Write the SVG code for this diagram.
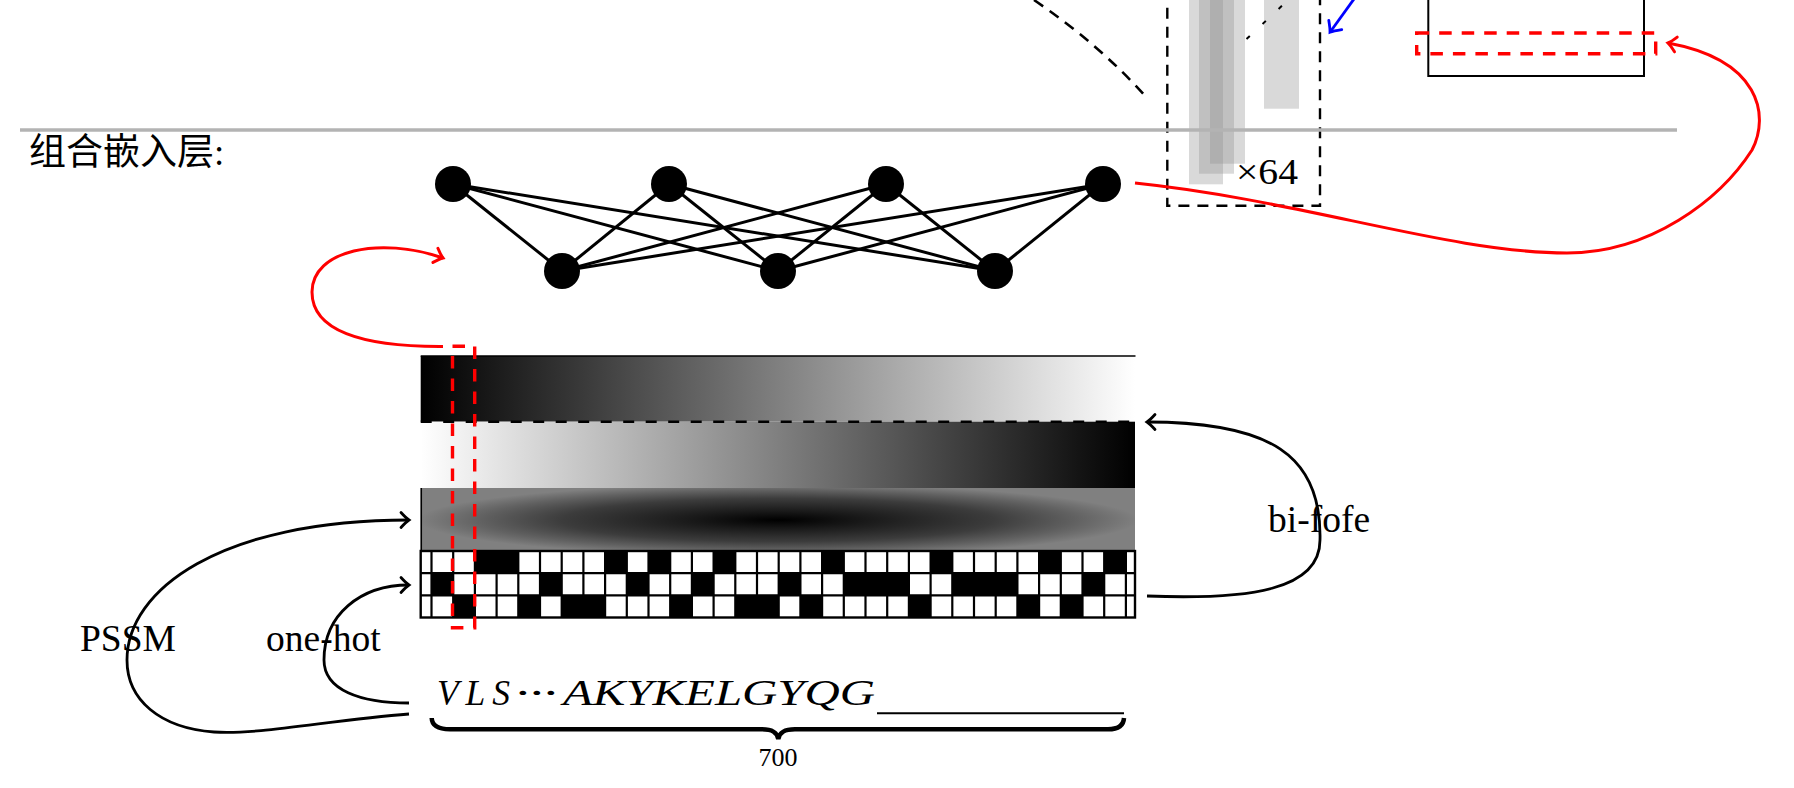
<svg xmlns="http://www.w3.org/2000/svg" width="1794" height="788" viewBox="0 0 1794 788">
<style>
.lbl{font-family:"Liberation Serif","Times New Roman",serif;font-size:37.5px;fill:#000}
.small{font-family:"Liberation Serif","Times New Roman",serif;font-size:26px;fill:#000}
.mult{font-family:"Liberation Serif","Times New Roman",serif;font-size:35px;fill:#000}
.title{font-family:"Liberation Serif","Noto Sans CJK SC",serif;font-size:37px;fill:#000}
.seq{font-family:"Liberation Serif","Times New Roman",serif;font-style:italic;font-size:35.5px;fill:#000}
.edge{stroke:#000;stroke-width:3;fill:none}
.node{fill:#000}
.arr{fill:none;stroke:#000;stroke-width:2.8}
.red{fill:none;stroke:#ff0000;stroke-width:3}
.rdash{fill:none;stroke:#ff0000;stroke-width:3.4;stroke-dasharray:12.5 10}
.kdash{fill:none;stroke:#000;stroke-width:2.4;stroke-dasharray:11 8}
.bar{fill:#909090;fill-opacity:0.34}
</style>
<defs>
<linearGradient id="gBW" x1="0" y1="0" x2="1" y2="0"><stop offset="0" stop-color="#000"/><stop offset="1" stop-color="#fff"/></linearGradient>
<linearGradient id="gWB" x1="0" y1="0" x2="1" y2="0"><stop offset="0" stop-color="#fff"/><stop offset="1" stop-color="#000"/></linearGradient>
<radialGradient id="gRad" gradientUnits="userSpaceOnUse" cx="778" cy="520" r="360" gradientTransform="translate(778,520) scale(1,0.1) translate(-778,-520)">
<stop offset="0" stop-color="#000"/><stop offset="0.25" stop-color="#1a1a1a"/><stop offset="0.6" stop-color="#3c3c3c"/><stop offset="0.82" stop-color="#606060"/><stop offset="1" stop-color="#808080"/>
</radialGradient>
<marker id="aK" markerUnits="userSpaceOnUse" markerWidth="20" markerHeight="20" refX="0" refY="0" orient="auto" overflow="visible"><path d="M-8,-7.5 Q-3,-2 0,0 Q-3,2 -8,7.5" fill="none" stroke="#000" stroke-width="2.8" stroke-linecap="round"/></marker>
<marker id="aR" markerUnits="userSpaceOnUse" markerWidth="20" markerHeight="20" refX="0" refY="0" orient="auto" overflow="visible"><path d="M-8,-7.5 Q-3,-2 0,0 Q-3,2 -8,7.5" fill="none" stroke="#ff0000" stroke-width="3" stroke-linecap="round"/></marker>
<marker id="aB" markerUnits="userSpaceOnUse" markerWidth="20" markerHeight="20" refX="0" refY="0" orient="auto" overflow="visible"><path d="M-9,-8 Q-3,-2 0,0 Q-3,2 -9,8" fill="none" stroke="#0000ff" stroke-width="2.8" stroke-linecap="round"/></marker>
</defs>
<rect width="1794" height="788" fill="#fff"/>

<g id="top-section">
<path d="M1034,0 Q1100,45 1147,98" fill="none" stroke="#000" stroke-width="2.6" stroke-dasharray="11 8"/>
<g id="stack-bars">
<rect class="bar" x="1189" y="-5" width="34" height="189.3"/>
<rect class="bar" x="1199" y="-5" width="35" height="178.7"/>
<rect class="bar" x="1210" y="-5" width="35" height="168.7"/>
<rect x="1264" y="-5" width="35" height="113.7" fill="#d9d9d9"/>
<path d="M1246.5,39 L1286,2" fill="none" stroke="#000" stroke-width="2" stroke-dasharray="4.5 17.5"/>
</g>
<rect id="stack-box" class="kdash" x="1167.3" y="-5" width="152.7" height="210.7"/>
<text class="mult" x="1236" y="184" textLength="62" lengthAdjust="spacingAndGlyphs">×64</text>
<rect id="top-rect" x="1428.3" y="-5" width="215.7" height="81" fill="none" stroke="#000" stroke-width="2"/>
<rect id="top-red-box" class="rdash" x="1416.7" y="33" width="239" height="20.7"/>
</g>

<line id="divider" x1="20" y1="130" x2="1677" y2="130" stroke="#b3b3b3" stroke-width="3.3"/>
<text id="title" class="title" x="29" y="165">组合嵌入层:</text>

<g id="bands">
<rect id="band1" x="420.7" y="356" width="714.3" height="65.7" fill="url(#gBW)"/>
<rect id="band2" x="420.7" y="421.7" width="714.3" height="66.3" fill="url(#gWB)"/>
<line x1="420.7" y1="356" x2="1135.5" y2="356" stroke="#000" stroke-width="1.5"/>
<line x1="420.7" y1="421.7" x2="1135.5" y2="421.7" stroke="#000" stroke-width="2.5" stroke-dasharray="11 11.5"/>
<g id="band3">
<rect x="420.7" y="488" width="714.3" height="63" fill="#808080"/>
<rect x="420.7" y="488" width="714.3" height="63" fill="url(#gRad)"/>
<line x1="421.3" y1="488" x2="421.3" y2="551" stroke="#000" stroke-width="1.5"/>
</g>
<g id="onehot-grid">
<rect x="420.7" y="551" width="714.3" height="66.5" fill="#fff"/>
<g fill="#000">
<rect x="474.9" y="551" width="43.4" height="22.2"/>
<rect x="605.1" y="551" width="21.7" height="22.2"/>
<rect x="648.5" y="551" width="21.7" height="22.2"/>
<rect x="713.6" y="551" width="21.7" height="22.2"/>
<rect x="822.1" y="551" width="21.7" height="22.2"/>
<rect x="930.6" y="551" width="21.7" height="22.2"/>
<rect x="1039.1" y="551" width="21.7" height="22.2"/>
<rect x="1104.2" y="551" width="21.7" height="22.2"/>
<rect x="431.5" y="573.2" width="21.7" height="22.2"/>
<rect x="540" y="573.2" width="21.7" height="22.2"/>
<rect x="626.8" y="573.2" width="21.7" height="22.2"/>
<rect x="691.9" y="573.2" width="21.7" height="22.2"/>
<rect x="778.7" y="573.2" width="21.7" height="22.2"/>
<rect x="843.8" y="573.2" width="65.1" height="22.2"/>
<rect x="952.3" y="573.2" width="65.1" height="22.2"/>
<rect x="1082.5" y="573.2" width="21.7" height="22.2"/>
<rect x="453.2" y="595.4" width="21.7" height="22.1"/>
<rect x="518.3" y="595.4" width="21.7" height="22.1"/>
<rect x="561.7" y="595.4" width="43.4" height="22.1"/>
<rect x="670.2" y="595.4" width="21.7" height="22.1"/>
<rect x="735.3" y="595.4" width="43.4" height="22.1"/>
<rect x="800.4" y="595.4" width="21.7" height="22.1"/>
<rect x="908.9" y="595.4" width="21.7" height="22.1"/>
<rect x="1017.4" y="595.4" width="21.7" height="22.1"/>
<rect x="1060.8" y="595.4" width="21.7" height="22.1"/>
</g>
<path fill="none" stroke="#000" stroke-width="2.2" d="M420.7,573.2H1135M420.7,595.4H1135M431.5,551V617.5M453.2,551V617.5M474.9,551V617.5M496.6,551V617.5M518.3,551V617.5M540,551V617.5M561.7,551V617.5M583.4,551V617.5M605.1,551V617.5M626.8,551V617.5M648.5,551V617.5M670.2,551V617.5M691.9,551V617.5M713.6,551V617.5M735.3,551V617.5M757,551V617.5M778.7,551V617.5M800.4,551V617.5M822.1,551V617.5M843.8,551V617.5M865.5,551V617.5M887.2,551V617.5M908.9,551V617.5M930.6,551V617.5M952.3,551V617.5M974,551V617.5M995.7,551V617.5M1017.4,551V617.5M1039.1,551V617.5M1060.8,551V617.5M1082.5,551V617.5M1104.2,551V617.5M1125.9,551V617.5"/>
<rect x="420.7" y="551" width="714.3" height="66.5" fill="none" stroke="#000" stroke-width="2.4"/>
</g>
<rect id="column-box" class="rdash" x="452.5" y="346.2" width="22.2" height="281.5"/>
</g>

<g id="connectors">
<g id="nn-edges">
<line class="edge" x1="453" y1="184" x2="562" y2="271"/>
<line class="edge" x1="453" y1="184" x2="778" y2="271"/>
<line class="edge" x1="453" y1="184" x2="995" y2="271"/>
<line class="edge" x1="669" y1="184" x2="562" y2="271"/>
<line class="edge" x1="669" y1="184" x2="778" y2="271"/>
<line class="edge" x1="669" y1="184" x2="995" y2="271"/>
<line class="edge" x1="886" y1="184" x2="562" y2="271"/>
<line class="edge" x1="886" y1="184" x2="778" y2="271"/>
<line class="edge" x1="886" y1="184" x2="995" y2="271"/>
<line class="edge" x1="1103" y1="184" x2="562" y2="271"/>
<line class="edge" x1="1103" y1="184" x2="778" y2="271"/>
<line class="edge" x1="1103" y1="184" x2="995" y2="271"/>
</g>
<path id="red-to-top" class="red" d="M1135,183 C1300,200 1450,253 1567,253 C1650,253 1720,200 1752,150 C1770,115 1760,60 1668,43" marker-end="url(#aR)"/>
<path id="red-to-nn" class="red" d="M443,346.5 C360,347 312,330 312,292 C312,250 380,236 443,258" marker-end="url(#aR)"/>
<path id="blue-arrow" d="M1360.5,-10 L1330,32.3" fill="none" stroke="#0000ff" stroke-width="2.8" marker-end="url(#aB)"/>
<path id="pssm-arrow" class="arr" d="M409,714 C330,720 260,735 214,732 C160,728 127,700 127,660 C127,590 220,520 409,520" marker-end="url(#aK)"/>
<path id="onehot-arrow" class="arr" d="M409,703 C360,703 324,690 324,660 C324,615 360,585 409,585" marker-end="url(#aK)"/>
<path id="bifofe-arrow" class="arr" d="M1147,596 C1250,600 1320,590 1320,540 C1322,455 1270,422 1147,422" marker-end="url(#aK)"/>
</g>

<g id="nn-nodes">
<circle id="t1" class="node" cx="453" cy="184" r="18"/>
<circle id="t2" class="node" cx="669" cy="184" r="18"/>
<circle id="t3" class="node" cx="886" cy="184" r="18"/>
<circle id="t4" class="node" cx="1103" cy="184" r="18"/>
<circle id="b1" class="node" cx="562" cy="271" r="18"/>
<circle id="b2" class="node" cx="778" cy="271" r="18"/>
<circle id="b3" class="node" cx="995" cy="271" r="18"/>
</g>

<g id="labels">
<text class="lbl" x="80" y="651">PSSM</text>
<text class="lbl" x="266" y="651">one-hot</text>
<text class="lbl" x="1268" y="532">bi-fofe</text>
</g>

<g id="sequence">
<text class="seq" y="705"><tspan x="437" textLength="73" lengthAdjust="spacing">VLS</tspan><tspan x="515" textLength="42" lengthAdjust="spacingAndGlyphs">···</tspan><tspan x="563" textLength="312" lengthAdjust="spacingAndGlyphs">AKYKELGYQG</tspan></text>
<line x1="877" y1="713.3" x2="1124" y2="713.3" stroke="#000" stroke-width="2"/>
<path d="M431.7,718 C432,726 438,729.3 450,729.3 L762,729.3 C772,729.3 777,732 778.3,739 C779.6,732 784.6,729.3 795,729.3 L1108,729.3 C1118,729.3 1123.5,726 1124,718" fill="none" stroke="#000" stroke-width="4.5"/>
<text class="small" x="778" y="765.5" text-anchor="middle">700</text>
</g>
</svg>
